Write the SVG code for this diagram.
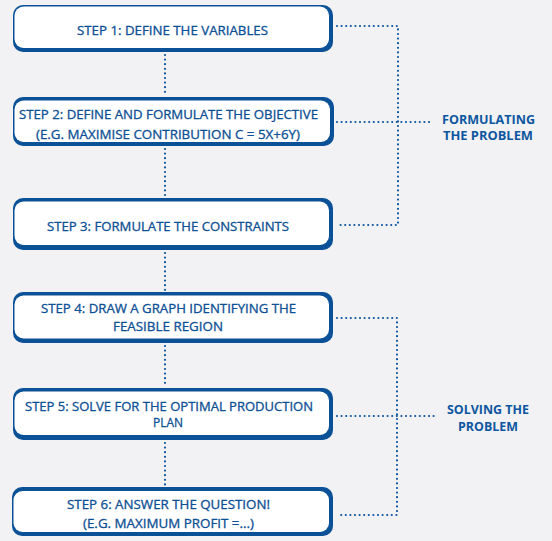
<svg xmlns="http://www.w3.org/2000/svg" width="552" height="541" viewBox="0 0 552 541">
<style>
.bg{fill:#f2f2f4}
.frame{fill:#0b5198}
.inner{fill:#ffffff}
.t{font-family:"Open Sans","Liberation Sans",sans-serif;font-size:12.5px;fill:#0d4f94;stroke:#0d4f94;stroke-width:0.3;text-anchor:middle}
.lbl{font-family:"Open Sans","Liberation Sans",sans-serif;font-size:12.5px;font-weight:bold;fill:#0d56a0;text-anchor:middle}
.dot{fill:none;stroke:#0d56a0;stroke-width:2.2;stroke-linecap:round;stroke-dasharray:0 4.6}
</style>
<rect class="bg" x="0" y="0" width="552" height="541"/>
<g id="connectors">
<path class="dot" d="M165 55 V96"/>
<path class="dot" d="M165 149 V197"/>
<path class="dot" d="M165 253 V291"/>
<path class="dot" d="M165 346 V387"/>
<path class="dot" d="M165 443 V486"/>
<path class="dot" d="M337 26 H398 V225 H337"/>
<path class="dot" d="M337 122 H433"/>
<path class="dot" d="M337 318 H397 V515 H337"/>
<path class="dot" d="M337 416 H438"/>
</g>
<g id="step1">
<rect class="frame" x="13" y="5" width="320" height="47" rx="10"/>
<rect class="inner" x="14.5" y="6.5" width="314.5" height="41.5" rx="9"/>
<text class="t" x="172.5" y="35" textLength="191" lengthAdjust="spacingAndGlyphs">STEP 1: DEFINE THE VARIABLES</text>
</g>
<g id="step2">
<rect class="frame" x="13" y="97" width="321" height="49" rx="10"/>
<rect class="inner" x="14.5" y="100.5" width="315.5" height="41.5" rx="9"/>
<text class="t" x="168.5" y="119" textLength="299" lengthAdjust="spacingAndGlyphs">STEP 2: DEFINE AND FORMULATE THE OBJECTIVE</text>
<text class="t" x="168" y="139" textLength="264" lengthAdjust="spacingAndGlyphs">(E.G. MAXIMISE CONTRIBUTION C = 5X+6Y)</text>
</g>
<g id="step3">
<rect class="frame" x="13" y="198" width="320" height="52" rx="10"/>
<rect class="inner" x="14.5" y="201.5" width="314.5" height="43.5" rx="9"/>
<text class="t" x="168" y="231" textLength="242" lengthAdjust="spacingAndGlyphs">STEP 3: FORMULATE THE CONSTRAINTS</text>
</g>
<g id="step4">
<rect class="frame" x="13" y="292" width="320" height="51" rx="10"/>
<rect class="inner" x="14.5" y="295.5" width="314.5" height="43" rx="9"/>
<text class="t" x="168.5" y="313" textLength="255" lengthAdjust="spacingAndGlyphs">STEP 4: DRAW A GRAPH IDENTIFYING THE</text>
<text class="t" x="168" y="331" textLength="110" lengthAdjust="spacingAndGlyphs">FEASIBLE REGION</text>
</g>
<g id="step5">
<rect class="frame" x="13" y="388" width="320" height="52" rx="10"/>
<rect class="inner" x="14.5" y="391.5" width="314.5" height="43.5" rx="9"/>
<text class="t" x="169" y="411" textLength="288" lengthAdjust="spacingAndGlyphs">STEP 5: SOLVE FOR THE OPTIMAL PRODUCTION</text>
<text class="t" x="168" y="427" textLength="30" lengthAdjust="spacingAndGlyphs">PLAN</text>
</g>
<g id="step6">
<rect class="frame" x="12" y="487" width="321" height="49" rx="10"/>
<rect class="inner" x="13.5" y="491" width="315.5" height="41" rx="9"/>
<text class="t" x="168.5" y="509" textLength="203" lengthAdjust="spacingAndGlyphs">STEP 6: ANSWER THE QUESTION!</text>
<text class="t" x="168.5" y="528" textLength="171" lengthAdjust="spacingAndGlyphs">(E.G. MAXIMUM PROFIT =...)</text>
</g>
<g id="formulating">
<text class="lbl" x="488.5" y="124" textLength="93" lengthAdjust="spacingAndGlyphs">FORMULATING</text>
<text class="lbl" x="488" y="140" textLength="90" lengthAdjust="spacingAndGlyphs">THE PROBLEM</text>
</g>
<g id="solving">
<text class="lbl" x="488" y="414" textLength="82" lengthAdjust="spacingAndGlyphs">SOLVING THE</text>
<text class="lbl" x="488" y="431" textLength="60" lengthAdjust="spacingAndGlyphs">PROBLEM</text>
</g>
</svg>
